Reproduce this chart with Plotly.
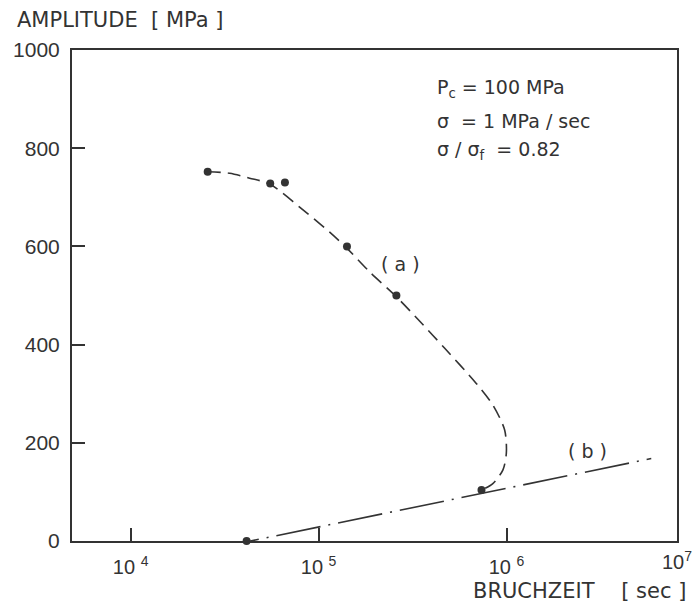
import plotly.graph_objects as go

# measured points (x: rupture time [sec], y: amplitude [MPa])
pts_x = [25700, 55300, 66200, 141600, 259400, 736000, 41400]
pts_y = [752, 728, 730, 600, 500, 104, 0]

# curve (a)
a_x = [25700, 33650, 42950, 54950, 79250, 114550, 140900, 187100, 260000,
       344400, 467700, 690200, 845300, 977200, 997700, 957100, 845300, 736200]
a_y = [752, 749, 739, 727, 680, 629, 597, 548, 497,
       448, 393, 321, 277, 226, 179, 145, 117, 104]

# line (b)
b_x = [28000, 5890000]
b_y = [-15, 168]

x_tickvals = [1e4, 1e5, 1e6]
x_ticktext = ["10 <sup>4</sup>", "10 <sup>5</sup>", "10 <sup>6</sup>"]
y_tickvals = [0, 200, 400, 600, 800, 1000]

FONT = "Liberation Sans"
TFONT = "DejaVu Sans"
INK = "#333333"

fig = go.Figure()
fig.add_trace(go.Scatter(x=a_x, y=a_y, mode="lines", line_shape="spline",
                         line=dict(color=INK, width=1.6, dash="13px,7px", smoothing=0.8),
                         hoverinfo="skip", showlegend=False))
fig.add_trace(go.Scatter(x=b_x, y=b_y, mode="lines",
                         line=dict(color=INK, width=1.6, dash="45px,8px,2px,8px"),
                         hoverinfo="skip", showlegend=False))
fig.add_trace(go.Scatter(x=pts_x, y=pts_y, mode="markers", cliponaxis=False,
                         marker=dict(color=INK, size=8), showlegend=False))

fig.update_layout(
    width=694, height=610,
    margin=dict(l=72, r=17, t=50, b=69),
    paper_bgcolor="white", plot_bgcolor="white",
    font=dict(family=FONT, color=INK, size=20),
    xaxis=dict(type="log", range=[3.688, 6.907], tickvals=x_tickvals, ticktext=x_ticktext,
               ticks="inside", ticklen=13, tickwidth=1.5, tickcolor=INK,
               showline=True, linecolor=INK, linewidth=2, mirror=True,
               showgrid=False, zeroline=False, tickfont=dict(size=20),
               ticklabelstandoff=7),
    yaxis=dict(range=[0, 1000], tickvals=y_tickvals,
               ticks="inside", ticklen=13, tickwidth=1.5, tickcolor=INK,
               showline=True, linecolor=INK, linewidth=2, mirror=True,
               showgrid=False, zeroline=False, tickfont=dict(size=21),
               ticklabelstandoff=6),
)

anns = [
    dict(text="AMPLITUDE  [ MPa ]", xref="paper", yref="paper", x=-0.094, y=1.061,
         xanchor="left", yanchor="middle", font=dict(family=TFONT, size=21)),
    dict(text="BRUCHZEIT    [ sec ]", xref="paper", yref="paper", x=1.018, y=-0.102,
         xanchor="right", yanchor="middle", font=dict(family=TFONT, size=21)),
    dict(text="10<sup>7</sup>", xref="paper", yref="paper", x=1.0, y=-0.04,
         xanchor="center", yanchor="middle", font=dict(size=20)),
    dict(text="P<sub>c</sub> = 100 MPa", x=5.617, y=922, xanchor="left", yanchor="middle",
         font=dict(family=TFONT, size=19)),
    dict(text="σ  = 1 MPa / sec", x=5.617, y=855, xanchor="left", yanchor="middle",
         font=dict(family=TFONT, size=19)),
    dict(text="σ / σ<sub>f</sub>  = 0.82", x=5.617, y=796, xanchor="left", yanchor="middle",
         font=dict(family=TFONT, size=19)),
    dict(text="( a )", x=5.436, y=564, xanchor="center", yanchor="middle",
         font=dict(family=TFONT, size=19)),
    dict(text="( b )", x=6.431, y=183, xanchor="center", yanchor="middle",
         font=dict(family=TFONT, size=19)),
]
for a in anns:
    a.setdefault("showarrow", False)
    fig.add_annotation(**a)

fig.write_html("out.html")
